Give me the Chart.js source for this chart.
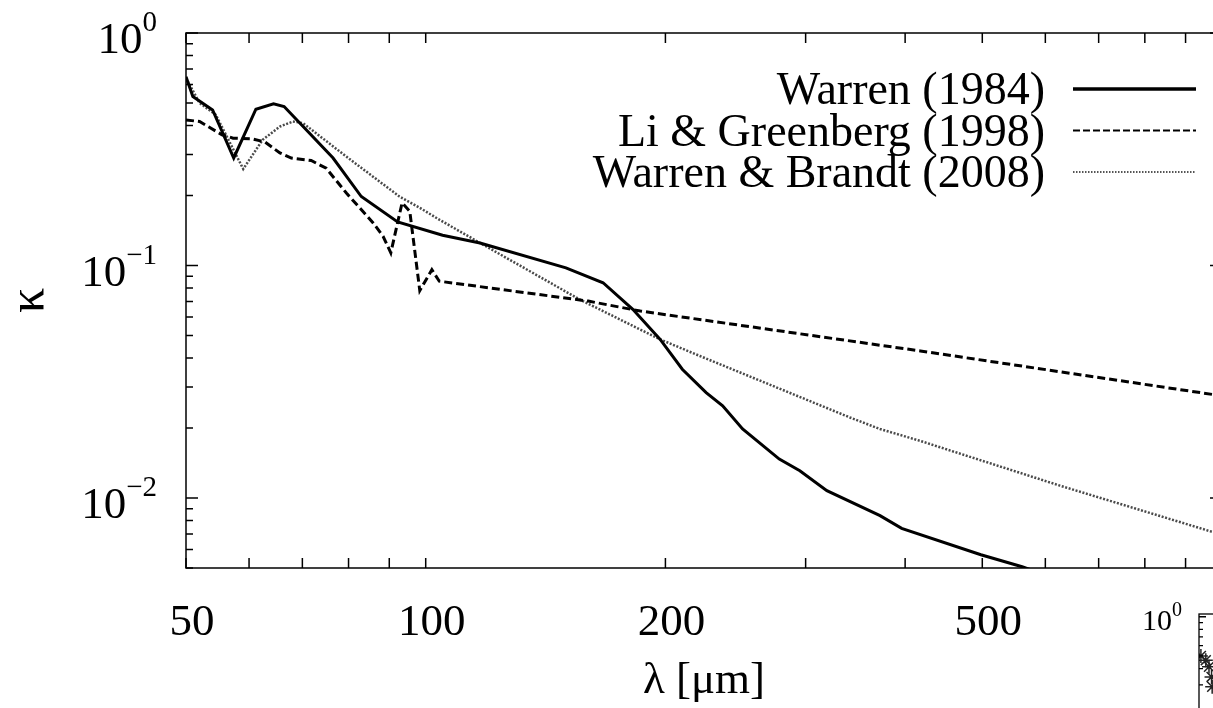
<!DOCTYPE html>
<html>
<head>
<meta charset="utf-8">
<title>kappa vs lambda</title>
<script src="https://cdn.jsdelivr.net/npm/chart.js@4.4.1/dist/chart.umd.min.js"></script>
<style>
  html, body { margin: 0; padding: 0; background: #fff; overflow: hidden; }
  #wrap { position: relative; width: 1260px; height: 708px; }
  #main { position: absolute; left: 0; top: 0; }
  #inset { position: absolute; left: 1120px; top: 580px; }
</style>
</head>
<body>
<div id="wrap">
  <canvas id="main" width="1260" height="708"></canvas>
  <canvas id="inset" width="300" height="200"></canvas>
</div>
<script>
// values (lambda in micron, kappa)
const seriesNames = ["Warren (1984)", "Li & Greenberg (1998)", "Warren & Brandt (2008)"];

const warrenLambda = [50, 51, 54, 57.4, 61.2, 64.4, 66.4, 76.5, 83, 92.2, 105, 117, 150, 167, 182, 197, 210, 225, 236, 250, 278, 295, 319, 372, 396, 498, 561, 620];
const warrenKappa = [0.649, 0.533, 0.467, 0.29, 0.47, 0.496, 0.483, 0.29, 0.198, 0.154, 0.135, 0.125, 0.0977, 0.0843, 0.0648, 0.0481, 0.0358, 0.0284, 0.0249, 0.0198, 0.0147, 0.0131, 0.01075, 0.0084, 0.0074, 0.0057, 0.00506, 0.0045];

const liLambda = [50, 52, 55.5, 57.3, 60.4, 62.8, 65.6, 67.8, 71.8, 75, 79.5, 85.9, 88.4, 90.4, 93.4, 95.5, 98.3, 101.8, 104, 160, 186, 418, 1000];
const liKappa = [0.423, 0.416, 0.365, 0.353, 0.351, 0.34, 0.305, 0.29, 0.283, 0.262, 0.205, 0.1525, 0.1336, 0.1134, 0.186, 0.171, 0.078, 0.096, 0.0856, 0.0703, 0.0637, 0.0429, 0.0275];

const wbLambda = [50, 52, 54.5, 59, 62.4, 65.6, 68.1, 70.1, 79.5, 92.7, 98.3, 104, 119, 156, 186, 197, 221, 341, 372, 418, 626, 975, 1000];
const wbKappa = [0.64, 0.5, 0.445, 0.26, 0.347, 0.396, 0.416, 0.41, 0.294, 0.198, 0.177, 0.1575, 0.121, 0.0715, 0.053, 0.0481, 0.0408, 0.0222, 0.0198, 0.0176, 0.0113, 0.00713, 0.0069];

const xTickValues = [50, 60, 70, 80, 90, 100, 200, 300, 400, 500, 600, 700, 800, 900, 1000];
const xLabelled = [50, 100, 200, 500];
const yTickValues = [0.005, 0.006, 0.007, 0.008, 0.009, 0.01, 0.02, 0.03, 0.04, 0.05, 0.06, 0.07, 0.08, 0.09,
                     0.1, 0.2, 0.3, 0.4, 0.5, 0.6, 0.7, 0.8, 0.9, 1];
const yMajorTicks = [0.01, 0.1, 1];
const yMajorExponents = ["\u22122", "\u22121", "0"];

// fragment of the neighbouring panel, bottom right
const insetX = [0.9, 3.2, 4.7, 5.9, 6.2];
const insetY = [0.5, 0.464, 0.413, 0.345, 0.29];
const insetYTicks = [0.3, 0.4, 0.5, 0.6, 0.7, 0.8, 0.9, 1];

const SERIF = '"Liberation Serif", "Times New Roman", serif';

function points(xs, ys) {
    return xs.map((x, i) => ({ x: x, y: ys[i] }));
}

function drawPower(ctx, right, py, exp, big, small) {
    ctx.textAlign = "right";
    ctx.textBaseline = "alphabetic";
    ctx.font = small + "px " + SERIF;
    const supW = ctx.measureText(exp).width;
    ctx.fillText(exp, right, py - big * 0.04);
    ctx.font = big + "px " + SERIF;
    ctx.fillText("10", right - supW, py + big * 0.45);
}

const frameTicks = {
    id: "frameTicks",
    afterDraw(chart) {
        const ctx = chart.ctx;
        const a = chart.chartArea;
        const xs = chart.scales.x;
        const ys = chart.scales.y;
        ctx.save();
        ctx.strokeStyle = "#000";
        ctx.lineWidth = 1.5;
        ctx.setLineDash([]);
        ctx.strokeRect(a.left, a.top, a.right - a.left, a.bottom - a.top);
        ctx.beginPath();
        xTickValues.forEach(v => {
            const px = xs.getPixelForValue(v);
            ctx.moveTo(px, a.bottom); ctx.lineTo(px, a.bottom - 10);
            ctx.moveTo(px, a.top); ctx.lineTo(px, a.top + 10);
        });
        yTickValues.forEach(v => {
            const py = ys.getPixelForValue(v);
            const len = yMajorTicks.includes(v) ? 12 : 7;
            ctx.moveTo(a.left, py); ctx.lineTo(a.left + len, py);
            ctx.moveTo(a.right, py); ctx.lineTo(a.right - len, py);
        });
        ctx.stroke();

        // y labels as 10^n
        ctx.fillStyle = "#000";
        yMajorTicks.forEach((v, i) => {
            drawPower(ctx, a.left - 29, ys.getPixelForValue(v), yMajorExponents[i], 45, 29);
        });

        // legend: text on the left, line sample on the right
        const legendStyles = [
            { color: "#000", width: 3.5, dash: [] },
            { color: "#000", width: 2.2, dash: [7, 3] },
            { color: "#555", width: 2.2, dash: [1.5, 1.5] }
        ];
        chart.data.datasets.forEach((ds, i) => {
            const y = a.top + 56 + i * 41.5;
            ctx.font = "46px " + SERIF;
            ctx.textAlign = "right";
            ctx.textBaseline = "alphabetic";
            ctx.fillStyle = "#000";
            ctx.fillText(ds.label, a.right - 177, y + 15);
            const st = legendStyles[i];
            ctx.beginPath();
            ctx.strokeStyle = st.color;
            ctx.lineWidth = st.width;
            ctx.setLineDash(st.dash);
            ctx.moveTo(a.right - 149, y);
            ctx.lineTo(a.right - 26, y);
            ctx.stroke();
        });
        ctx.restore();
    }
};

new Chart(document.getElementById("main"), {
    type: "line",
    data: {
        datasets: [
            {
                label: seriesNames[0],
                data: points(warrenLambda, warrenKappa),
                borderColor: "#000",
                borderWidth: 3,
                pointRadius: 0,
                tension: 0
            },
            {
                label: seriesNames[1],
                data: points(liLambda, liKappa),
                borderColor: "#000",
                borderWidth: 3,
                borderDash: [8, 4],
                pointRadius: 0,
                tension: 0
            },
            {
                label: seriesNames[2],
                data: points(wbLambda, wbKappa),
                borderColor: "#4a4a4a",
                borderWidth: 2.5,
                borderDash: [2, 1.6],
                pointRadius: 0,
                tension: 0
            }
        ]
    },
    options: {
        responsive: false,
        animation: false,
        devicePixelRatio: 1,
        layout: { padding: { top: 33, right: 38, bottom: 0, left: 0 } },
        plugins: {
            legend: { display: false },
            tooltip: { enabled: false }
        },
        scales: {
            x: {
                type: "logarithmic",
                min: 50,
                max: 1000,
                grid: { display: false },
                border: { display: false },
                afterBuildTicks: axis => { axis.ticks = xTickValues.map(v => ({ value: v })); },
                afterFit: axis => { axis.height = 140; },
                ticks: {
                    autoSkip: false,
                    maxRotation: 0,
                    minRotation: 0,
                    padding: 20,
                    labelOffset: 6,
                    color: "#000",
                    font: { family: SERIF, size: 45 },
                    callback: v => xLabelled.includes(v) ? String(v) : ""
                },
                title: {
                    display: true,
                    text: "\u03bb [\u03bcm]",
                    color: "#000",
                    padding: { top: 0, bottom: 0 },
                    font: { family: SERIF, size: 45 }
                }
            },
            y: {
                type: "logarithmic",
                min: 0.005,
                max: 1,
                grid: { display: false },
                border: { display: false },
                afterBuildTicks: axis => { axis.ticks = yTickValues.map(v => ({ value: v })); },
                afterFit: axis => { axis.width = 186; },
                ticks: { display: false },
                title: {
                    display: true,
                    text: "\u03ba",
                    color: "#000",
                    padding: { top: 0, bottom: 0 },
                    font: { family: SERIF, size: 50 }
                }
            }
        }
    },
    plugins: [frameTicks]
});

const insetFrame = {
    id: "insetFrame",
    afterDraw(chart) {
        const ctx = chart.ctx;
        const a = chart.chartArea;
        const ys = chart.scales.y;
        ctx.save();
        ctx.strokeStyle = "#000";
        ctx.lineWidth = 1.3;
        ctx.strokeRect(a.left, a.top, a.right - a.left + 10, a.bottom - a.top + 10);
        ctx.beginPath();
        insetYTicks.forEach(v => {
            const py = ys.getPixelForValue(v);
            ctx.moveTo(a.left, py);
            ctx.lineTo(a.left + (v === 1 ? 7 : 4), py);
        });
        ctx.stroke();
        ctx.fillStyle = "#000";
        drawPower(ctx, a.left - 17, ys.getPixelForValue(1), "0", 30, 20);
        ctx.restore();
    }
};

new Chart(document.getElementById("inset"), {
    type: "scatter",
    data: {
        datasets: [{
            data: points(insetX, insetY),
            pointStyle: "star",
            pointRadius: 7,
            borderColor: "#222",
            borderWidth: 1.5,
            backgroundColor: "#222"
        }]
    },
    options: {
        responsive: false,
        animation: false,
        devicePixelRatio: 1,
        layout: { padding: { top: 34, right: 0, bottom: 33, left: 79 } },
        plugins: { legend: { display: false }, tooltip: { enabled: false } },
        scales: {
            x: { type: "linear", min: 0, max: 100, display: false },
            y: { type: "logarithmic", min: 0.1, max: 1.05, display: false }
        }
    },
    plugins: [insetFrame]
});
</script>
</body>
</html>
